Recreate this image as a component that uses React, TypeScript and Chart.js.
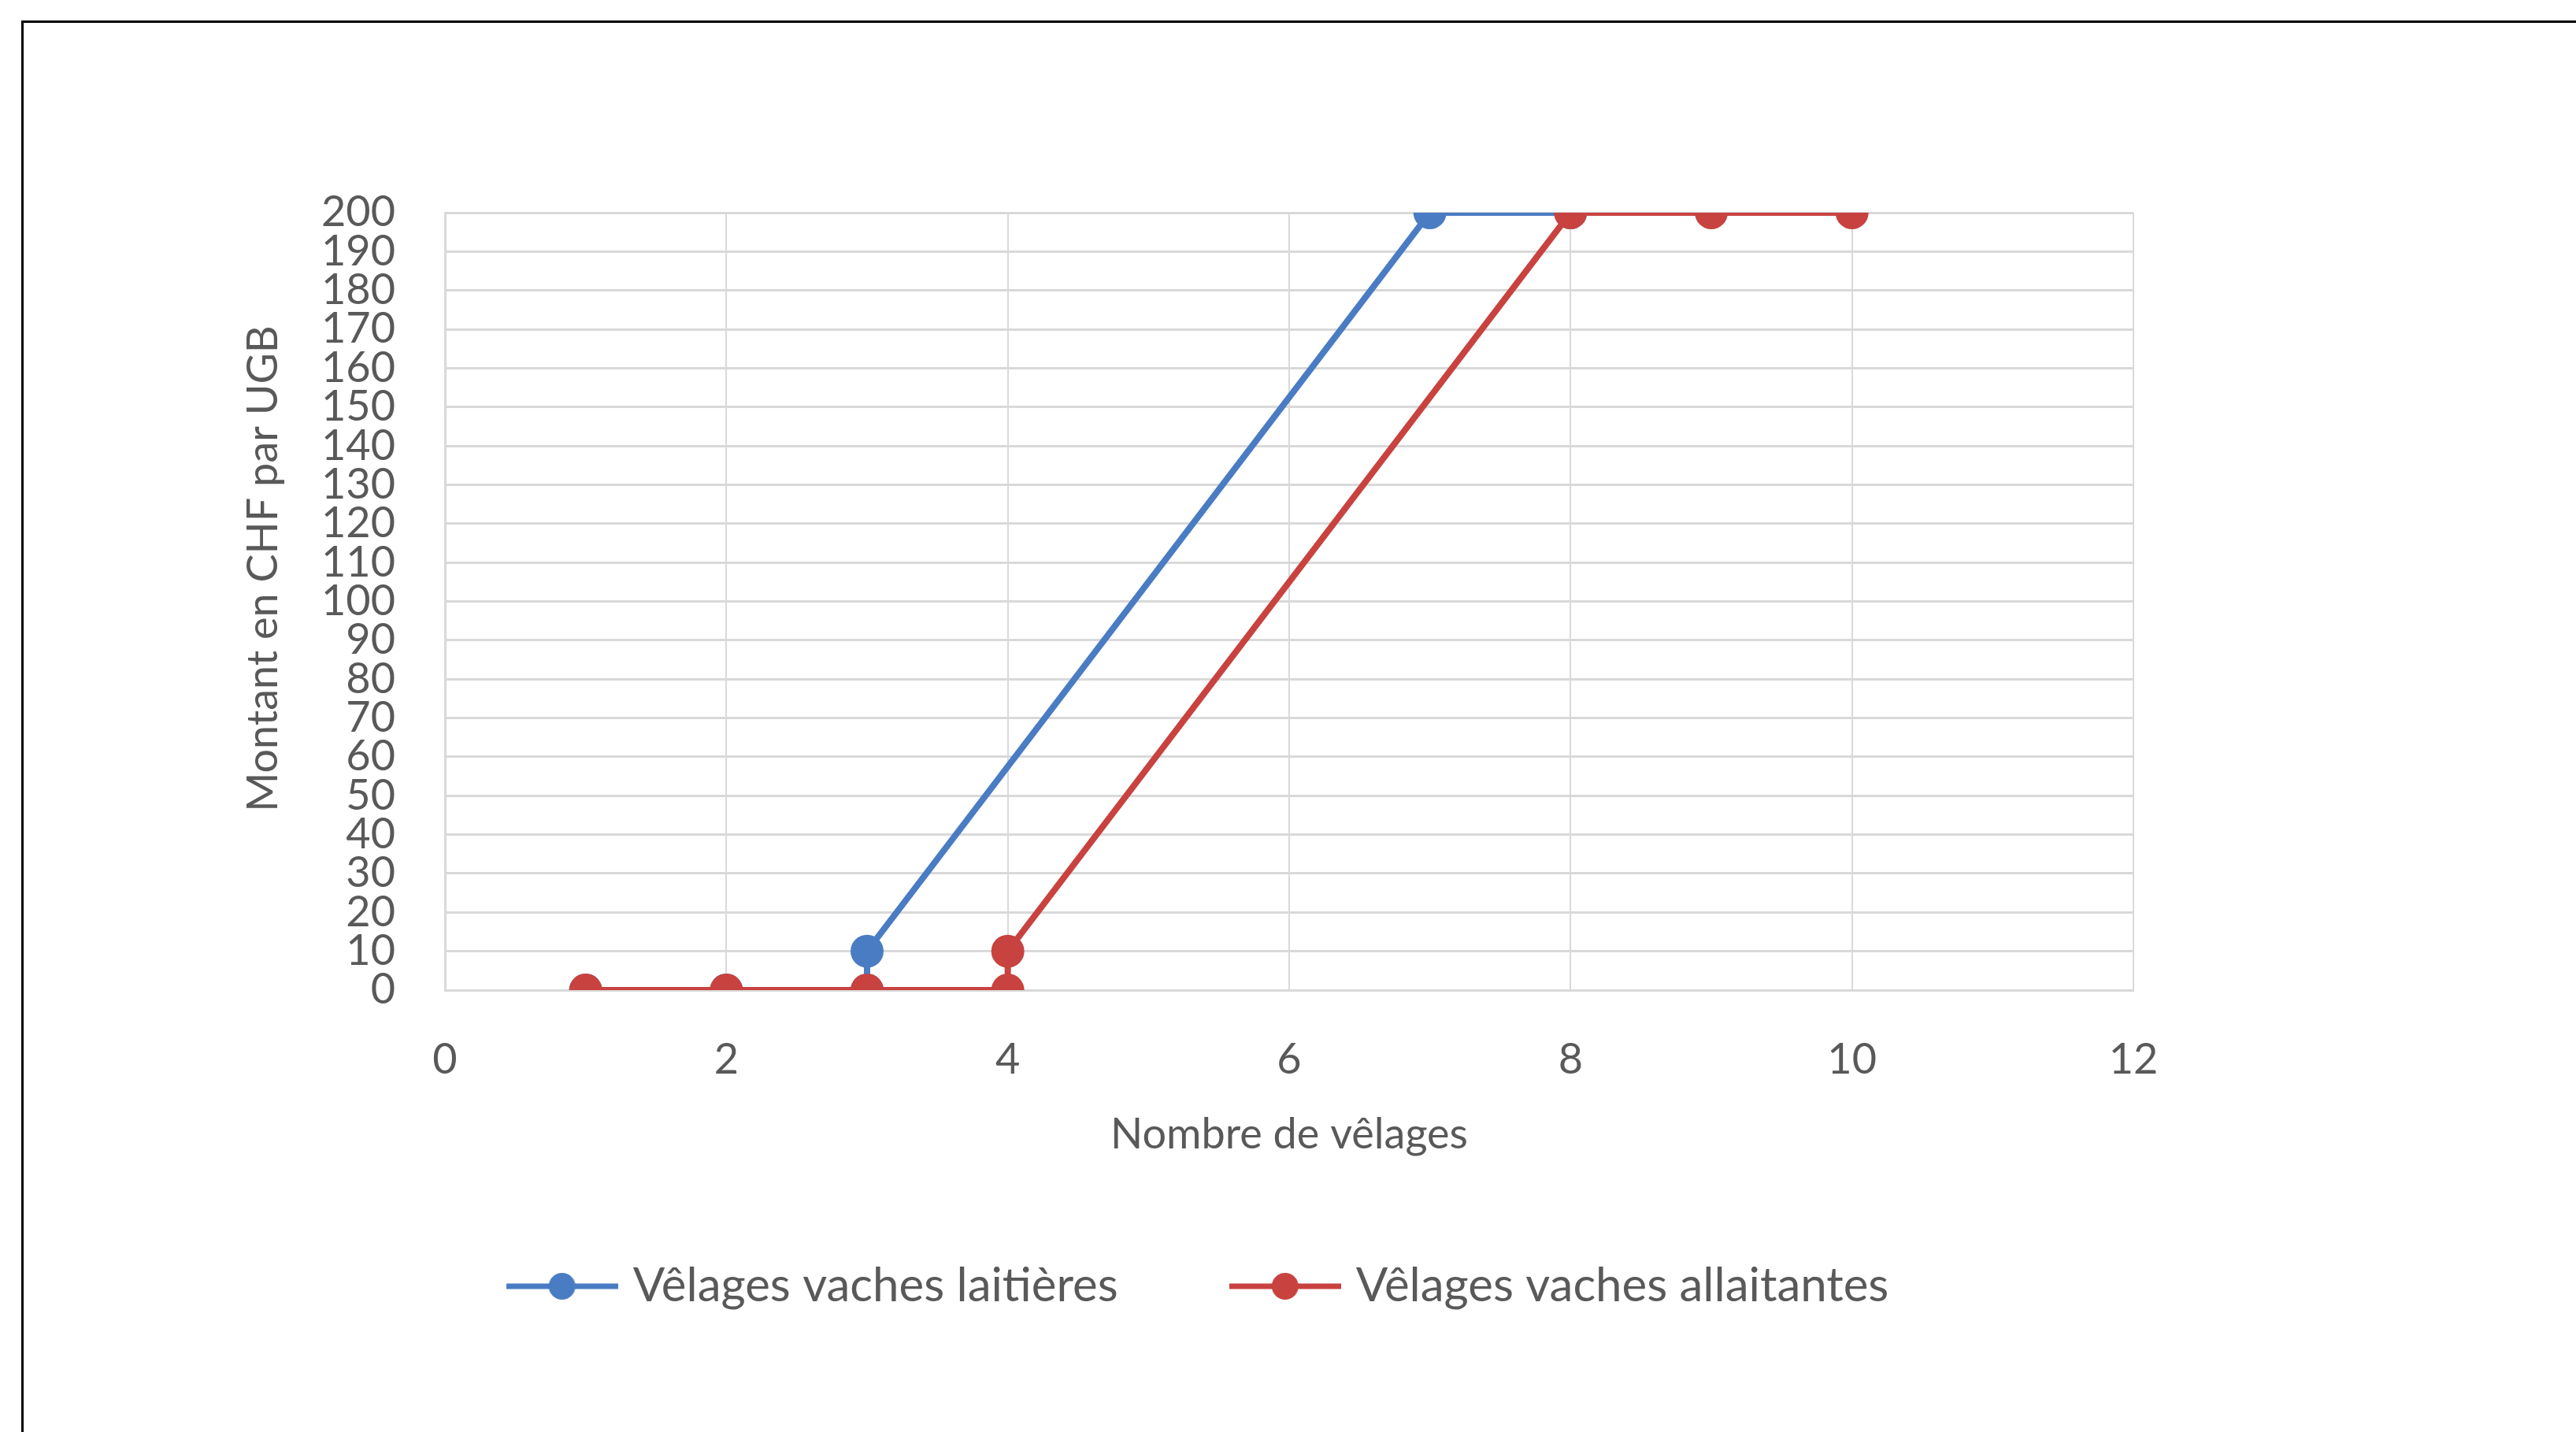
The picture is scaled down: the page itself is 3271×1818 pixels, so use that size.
import React, { useEffect, useRef } from "react";
import { Chart, registerables } from "chart.js";

Chart.register(...registerables);

// ---- data ----
const seriesNames = ["Vêlages vaches laitières", "Vêlages vaches allaitantes"];
const laitieresX = [1, 2, 3, 3, 7, 8];
const laitieresY = [0, 0, 0, 10, 200, 200];
const allaitantesX = [1, 2, 3, 4, 4, 8, 9, 10];
const allaitantesY = [0, 0, 0, 0, 10, 200, 200, 200];
const xMin = 0;
const xMax = 12;
const xStep = 2;
const yMin = 0;
const yMax = 200;
const yStep = 10;
const yTitle = "Montant en CHF par UGB";
const xTitle = "Nombre de vêlages";

const BLUE = "#4A7CC4";
const RED = "#C8423F";
const TEXT = "#595959";
const GRID = "#D9D9D9";
const FONT = "Lato, 'Open Sans', sans-serif";

function legendIcon(color: string): HTMLCanvasElement {
  const c = document.createElement("canvas");
  c.width = 142;
  c.height = 40;
  const ctx = c.getContext("2d")!;
  ctx.strokeStyle = color;
  ctx.lineWidth = 7;
  ctx.beginPath();
  ctx.moveTo(0, 20);
  ctx.lineTo(142, 20);
  ctx.stroke();
  ctx.fillStyle = color;
  ctx.beginPath();
  ctx.arc(71, 20, 17, 0, Math.PI * 2);
  ctx.fill();
  return c;
}

export default function App() {
  const ref = useRef<HTMLCanvasElement | null>(null);

  useEffect(() => {
    if (!ref.current) return;
    const icons = [legendIcon(BLUE), legendIcon(RED)];
    const chart = new Chart(ref.current, {
      type: "line",
      data: {
        datasets: [
          {
            label: seriesNames[0],
            data: laitieresX.map((x, i) => ({ x, y: laitieresY[i] })),
            borderColor: BLUE,
            backgroundColor: BLUE,
            pointBackgroundColor: BLUE,
            pointBorderWidth: 0,
            pointRadius: 21,
            borderWidth: 8,
            tension: 0,
            order: 1,
          },
          {
            label: seriesNames[1],
            data: allaitantesX.map((x, i) => ({ x, y: allaitantesY[i] })),
            borderColor: RED,
            backgroundColor: RED,
            pointBackgroundColor: RED,
            pointBorderWidth: 0,
            pointRadius: 21,
            borderWidth: 8,
            tension: 0,
            order: 0,
          },
        ],
      },
      options: {
        animation: false,
        responsive: false,
        devicePixelRatio: 1,
        layout: { padding: { top: 241, left: 0, right: 0, bottom: 145 } },
        plugins: {
          tooltip: { enabled: false },
          legend: {
            position: "bottom",
            labels: {
              usePointStyle: true,
              pointStyleWidth: 120,
              padding: 152,
              color: TEXT,
              font: { family: FONT, size: 60 },
              sort: (a: any, b: any) => a.datasetIndex - b.datasetIndex,
              generateLabels: (ch: any) => {
                const items = Chart.defaults.plugins.legend.labels.generateLabels(ch);
                return items.map((it: any) => ({ ...it, pointStyle: icons[it.datasetIndex] }));
              },
            },
          },
        },
        scales: {
          x: {
            type: "linear",
            min: xMin,
            max: xMax,
            afterFit: (s: any) => {
              s.height = 194;
            },
            ticks: {
              stepSize: xStep,
              padding: 56,
              color: TEXT,
              font: { family: FONT, size: 54 },
              maxRotation: 0,
            },
            grid: { color: GRID, lineWidth: 2, drawTicks: false },
            border: { color: GRID, width: 3 },
            title: {
              display: true,
              text: xTitle,
              color: TEXT,
              font: { family: FONT, size: 54 },
              padding: { top: 0, bottom: -22 },
            },
          },
          y: {
            type: "linear",
            min: yMin,
            max: yMax,
            afterFit: (s: any) => {
              s.width = 541;
            },
            ticks: {
              stepSize: yStep,
              autoSkip: false,
              padding: 63,
              color: TEXT,
              font: { family: FONT, size: 54 },
            },
            grid: { color: GRID, lineWidth: 3, drawTicks: false },
            border: { color: GRID, width: 3 },
            title: {
              display: true,
              text: "      " + yTitle,
              color: TEXT,
              font: { family: FONT, size: 54 },
              padding: { top: 278, bottom: 0 },
            },
          },
          yR: {
            type: "linear",
            position: "right",
            min: 0,
            max: 1,
            afterFit: (s: any) => {
              s.width = 319;
            },
            ticks: { display: false },
            grid: { display: false, drawTicks: false },
            border: { display: false },
          },
        },
      },
    });
    return () => chart.destroy();
  }, []);

  return (
    <div
      style={{
        position: "absolute",
        left: 0,
        top: 0,
        width: 3271,
        height: 1818,
        overflow: "hidden",
        background: "#fff",
      }}
    >
      <div
        style={{
          position: "absolute",
          left: 27,
          top: 26,
          width: 4000,
          height: 2000,
          borderLeft: "3px solid #000",
          borderTop: "3px solid #000",
        }}
      />
      <canvas
        ref={ref}
        width={3004}
        height={1789}
        style={{ position: "absolute", left: 24, top: 29, width: 3004, height: 1789 }}
      />
    </div>
  );
}
